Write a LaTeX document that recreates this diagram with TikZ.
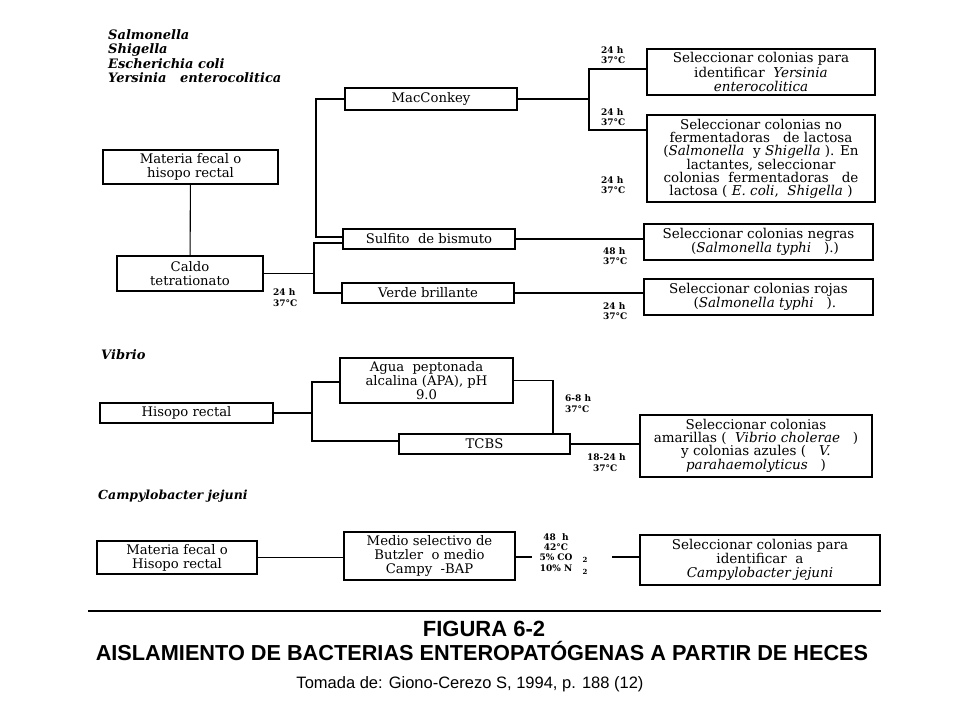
\documentclass[tikz,border=0pt]{standalone}
\usepackage{fontspec}
\setmainfont{DejaVu Serif}
\newfontfamily\capfont{Liberation Sans}
\begin{document}
\begin{tikzpicture}[x=1pt,y=-1pt,
  box/.style={draw, line width=1.1pt, inner sep=0pt, align=center, font=\fontsize{13.2}{14.3}\selectfont},
  rbox/.style={box, font=\fontsize{13.5}{14.3}\selectfont},
  lbl/.style={font=\bfseries\fontsize{9}{10}\selectfont, inner sep=0pt, anchor=west},
  subs/.style={font=\bfseries\fontsize{7}{8}\selectfont, inner sep=0pt},
  conn/.style={line width=1.1pt},
  hdr/.style={font=\bfseries\itshape\fontsize{13}{15}\selectfont, anchor=west, inner sep=0pt}]
\useasboundingbox (0,0) rectangle (960,720);

% ---------- Header ----------
\node[hdr] (h1) at (108,35) {Salmonella};
\node[hdr] (h2) at (108,50) {Shigella};
\node[hdr] (h3) at (108,64) {Escherichia coli};
\node[hdr] (h4) at (108,78) {Yersinia\ \ \ enterocolitica};

% ---------- Section 1 boxes ----------
\node[box, minimum width=175, minimum height=34] (mf) at (190.5,167) {Materia fecal o\\hisopo rectal};
\node[box, minimum width=146, minimum height=35] (caldo) at (190,273.5) {Caldo\\tetrationato};
\node[box, minimum width=172, minimum height=22] (mac) at (431,99) {MacConkey};
\node[box, minimum width=172, minimum height=20] (sulf) at (429,239) {Sulfito\ \ de bismuto};
\node[box, minimum width=172, minimum height=20] (verde) at (428,293) {Verde brillante};
\node[rbox, minimum width=228, minimum height=46] (yers) at (761,72) {Seleccionar colonias para\\identificar\ \ \textit{Yersinia}\\\textit{enterocolitica}};
\node[rbox, font=\fontsize{13.5}{12.9}\selectfont, minimum width=228, minimum height=87] (lact) at (761,158.5) {Seleccionar colonias no\\fermentadoras\ \ \ de lactosa\\(\textit{Salmonella}\ \ y \textit{Shigella}\ ). En\\lactantes, seleccionar\\colonias\ \ fermentadoras\ \ \ de\\lactosa ( \textit{E. coli},\ \ \textit{Shigella}\ )};
\node[rbox, minimum width=229, minimum height=36] (negras) at (758.5,242) {Seleccionar colonias negras\\\ \ \ (\textit{Salmonella typhi}\ \ \ ).)};
\node[rbox, minimum width=229, minimum height=36] (rojas) at (758.5,297) {Seleccionar colonias rojas\\\ \ \ (\textit{Salmonella typhi}\ \ \ ).};

% junctions section 1
\coordinate (b1) at (314,243);
\coordinate (b2) at (314,293);
\coordinate (m1) at (316,99);
\coordinate (m2) at (316,237);
\coordinate (y1) at (589,69);
\coordinate (y2) at (589,130);
\coordinate (yc) at (589,99);

\draw[conn] (mf) -- (caldo);
\draw[conn] (caldo.east) -- (caldo.east -| b1);
\draw[conn] (b1 -| sulf.west) -- (b1) -- (b2) -- (verde.west);
\draw[conn] (mac.west) -- (m1) -- (m2) -- (m2 -| sulf.west);
\draw[conn] (mac.east) -- (yc);
\draw[conn] (y1 -| yers.west) -- (y1) -- (y2) -- (y2 -| lact.west);
\draw[conn] (sulf.east) -- (sulf.east -| negras.west);
\draw[conn] (verde.east) -- (verde.east -| rojas.west);

% labels section 1
\node[lbl] (t1a) at (273,292) {24 h};
\node[lbl] (t1b) at (273,303) {37°C};
\node[lbl] (t2a) at (601,50) {24 h};
\node[lbl] (t2b) at (601,60) {37°C};
\node[lbl] (t3a) at (601,112) {24 h};
\node[lbl] (t3b) at (601,122) {37°C};
\node[lbl] (t4a) at (601,180) {24 h};
\node[lbl] (t4b) at (601,190) {37°C};
\node[lbl] (t5a) at (603,251) {48 h};
\node[lbl] (t5b) at (603,261) {37°C};
\node[lbl] (t6a) at (603,306) {24 h};
\node[lbl] (t6b) at (603,316) {37°C};

% ---------- Vibrio ----------
\node[hdr] (vib) at (101,355) {Vibrio};
\node[box, minimum width=173, minimum height=20] (his) at (186.5,413) {Hisopo rectal};
\node[box, minimum width=173, minimum height=45] (apa) at (426.5,380.5) {Agua\ \ peptonada\\alcalina (APA), pH\\9.0};
\node[box, minimum width=171, minimum height=20] (tcbs) at (484.5,444) {TCBS};
\node[rbox, font=\fontsize{13.5}{13.2}\selectfont, minimum width=232, minimum height=62] (amar) at (756,446) {Seleccionar colonias\\amarillas (\ \ \textit{Vibrio cholerae}\ \ \ )\\y colonias azules (\ \ \ \textit{V.}\\\textit{parahaemolyticus}\ \ \ )};

\coordinate (v1) at (312,382);
\coordinate (v2) at (312,441);
\coordinate (vj) at (312,413);
\coordinate (v3) at (553,383);

\draw[conn] (his.east) -- (vj);
\draw[conn] (v1 -| apa.west) -- (v1) -- (v2) -- (v2 -| tcbs.west);
\draw[conn] (apa.east) -- (apa.east -| v3) -- (v3 |- tcbs.north);
\draw[conn] (tcbs.east) -- (tcbs.east -| amar.west);

\node[lbl] (t7a) at (565,398) {6-8 h};
\node[lbl] (t7b) at (565,409) {37°C};
\node[lbl] (t8a) at (587,457) {18-24 h};
\node[lbl] (t8b) at (593,468) {37°C};

% ---------- Campylobacter ----------
\node[hdr, font=\bfseries\itshape\fontsize{12.5}{15}\selectfont] (cam) at (98,496) {Campylobacter jejuni};
\node[box, minimum width=160, minimum height=33] (mf2) at (177,557.5) {Materia fecal o\\Hisopo rectal};
\node[box, minimum width=171, minimum height=48] (medio) at (429.5,556) {Medio selectivo de\\Butzler\ \ o medio\\Campy\ \ -BAP};
\node[rbox, minimum width=240, minimum height=50] (campy) at (760,560) {Seleccionar colonias para\\identificar\ \ a\\\textit{Campylobacter jejuni}};

\coordinate (c1) at (532,557);
\coordinate (c2) at (612,557);
\draw[conn] (mf2.east) -- (mf2.east -| medio.west);
\draw[conn] (medio.east |- c1) -- (c1);
\draw[conn] (c2) -- (c2 -| campy.west);

\node[lbl, anchor=center] (t9a) at (556,537) {48\ \ h};
\node[lbl, anchor=center] (t9b) at (556,547) {42°C};
\node[lbl, anchor=center] (t9c) at (556,557) {5\% CO};
\node[lbl, anchor=center] (t9d) at (556,568) {10\% N};
\node[subs] (s1) at (585,560) {2};
\node[subs] (s2) at (585,572) {2};

% ---------- Caption ----------
\coordinate (rl) at (88,611);
\coordinate (rr) at (881,611);
\draw[line width=1.3pt] (rl) -- (rr);
\node[font=\capfont\bfseries\fontsize{22}{24}\selectfont, inner sep=0pt] (fig) at (484,629) {FIGURA 6-2};
\node[font=\capfont\bfseries\fontsize{21.7}{24}\selectfont, inner sep=0pt] (title) at (482,651) {AISLAMIENTO DE BACTERIAS ENTEROPATÓGENAS A PARTIR DE HECES};
\node[font=\capfont\fontsize{16.5}{18}\selectfont, inner sep=0pt] (src) at (470,684) {Tomada de: Giono-Cerezo S, 1994, p. 188 (12)};
\end{tikzpicture}
\end{document}
